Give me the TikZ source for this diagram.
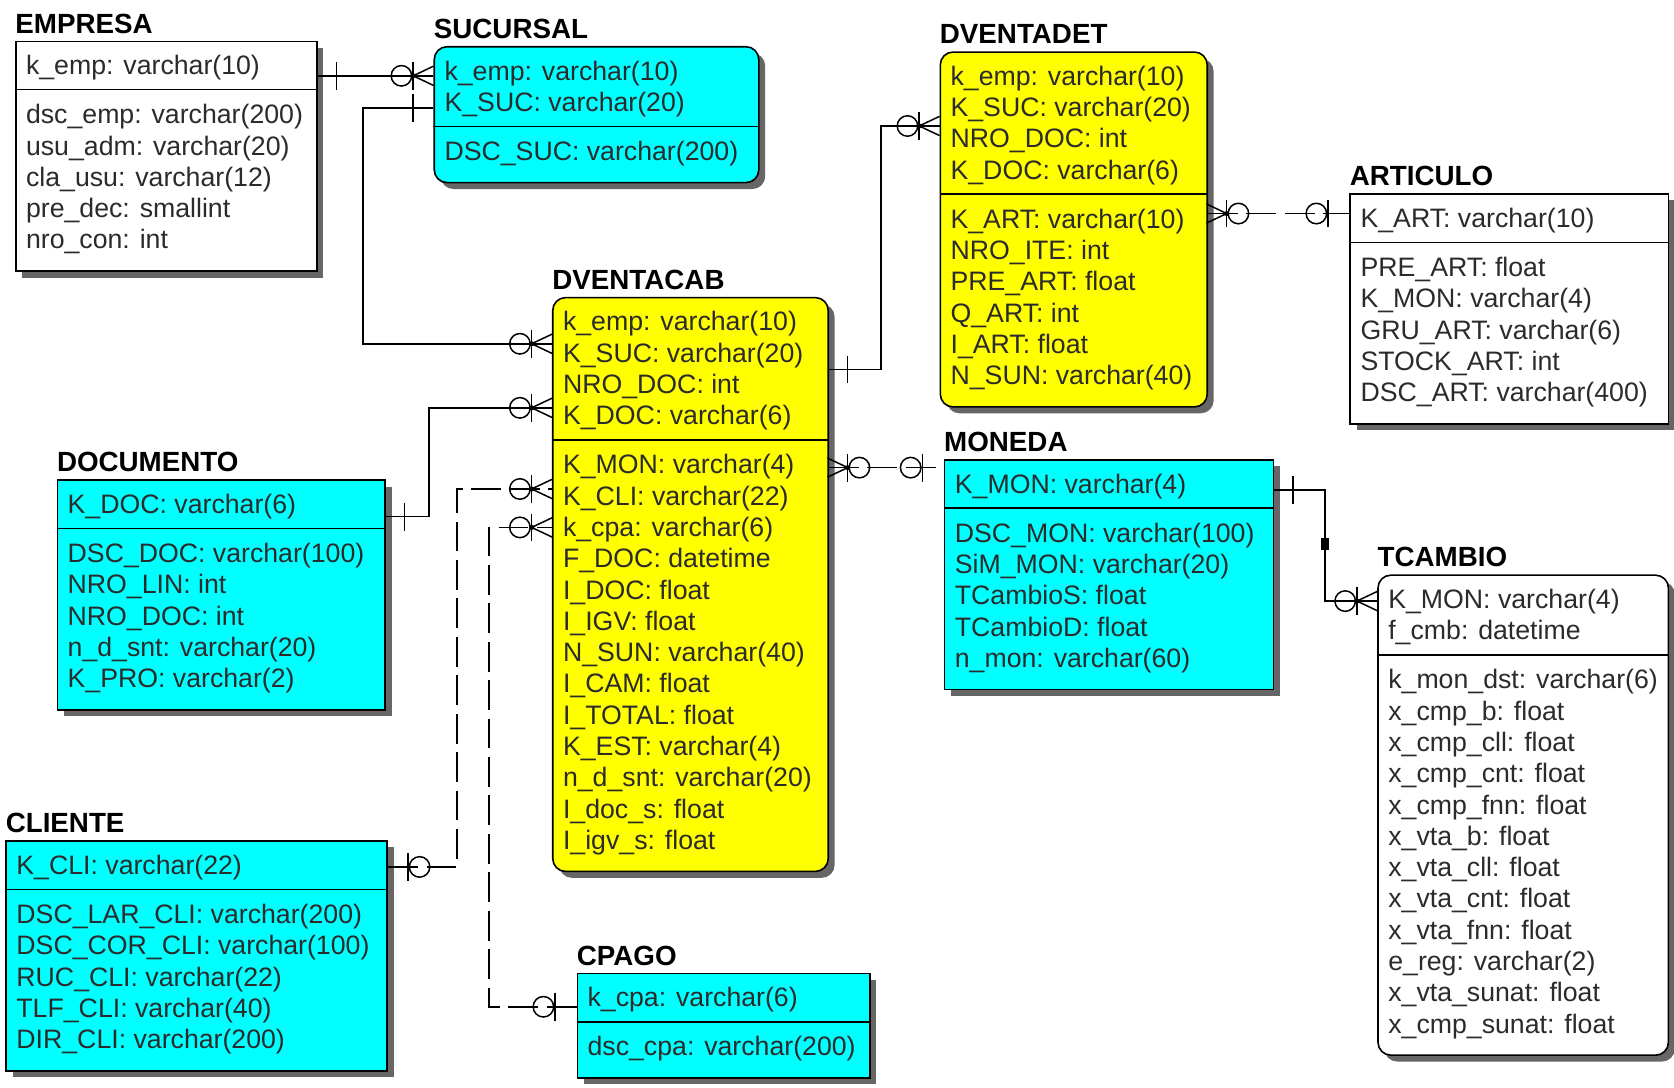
\documentclass[tikz,border=0pt]{standalone}
\usepackage{fontspec}
\setmainfont{Liberation Sans}
\usetikzlibrary{shadows}

\definecolor{ecyan}{HTML}{00FFFF}
\definecolor{eyellow}{HTML}{FFFF00}
\definecolor{etext}{HTML}{2B2B2B}

% Table of an ER diagram: box, title, key rows, divider, other rows.
% #1 name, #2 left, #3 top, #4 width, #5 box style, #6 title, #7 key rows, #8 other rows
\newcommand\entity[8]{%
  \def\nk{0}\foreach \rowtext [count=\c] in {#7} {\xdef\nk{\c}}%
  \def\nr{0}\foreach \rowtext [count=\c] in {#8} {\xdef\nr{\c}}%
  \pgfmathsetmacro\edv{#3+23+(\nk-1)*29.3+23}%
  \pgfmathsetmacro\ebt{\edv+23+(\nr-1)*29.3+29}%
  \pgfmathsetmacro\eht{(\ebt-#3)*0.5}%
  \pgfmathsetmacro\ewd{#4*0.5}%
  \node[ebox, #5, minimum width=\ewd pt, minimum height=\eht pt, anchor=north west] (#1) at (#2,#3) {};
  \node[etitle] (#1-t) at (#2,#3-7) {#6};
  \draw[eline] (#1.west |- 0,\edv) -- (#1.east |- 0,\edv);
  \foreach \rowtext [count=\c from 0] in {#7}
    \node[erow] (#1-k\c) at (#2+10,#3+23+\c*29.3+9) {\rowtext};
  \foreach \rowtext [count=\c from 0] in {#8}
    \node[erow] (#1-a\c) at (#2+10,\edv+23+\c*29.3+9) {\rowtext};
}

% Relationship end marks; #1 edge x, #2 y, #3 direction (+1 mark lies right of the edge, -1 left)
\newcommand\onemark[3]{%
  \draw[conn] (#1+19*#3,#2-13) -- (#1+19*#3,#2+13);}
\newcommand\zeroone[3]{%
  \draw[conn] (#1+20*#3,#2-13) -- (#1+20*#3,#2+13);
  \draw[conn] (#1+31*#3,#2) circle[radius=4.8pt];}
\newcommand\zeromany[3]{%
  \draw[conn] (#1,#2-9) -- (#1+19*#3,#2) -- (#1,#2+9);
  \draw[conn] (#1+19*#3,#2-13) -- (#1+19*#3,#2+13);
  \fill (#1+19*#3,#2) circle[radius=1.2pt];
  \draw[conn] (#1+30*#3,#2) circle[radius=4.8pt];}

\begin{document}
\begin{tikzpicture}[x=0.5pt,y=-0.5pt,
  ebox/.style={draw=black, line width=0.75pt, fill=white,
    drop shadow={shadow xshift=3pt, shadow yshift=-3pt, fill=black!60, opacity=1}},
  rbox/.style={rounded corners=6pt},
  eline/.style={draw=black, line width=0.75pt},
  etitle/.style={anchor=base west, inner sep=0pt, font=\bfseries\fontsize{13}{15}\selectfont},
  erow/.style={anchor=base west, inner sep=0pt, text=etext, font=\fontsize{12.5}{15}\selectfont},
  conn/.style={draw=black, line width=0.7pt},
  dconn/.style={conn, dash pattern=on 14pt off 4pt}]

\fill[white] (0,0) rectangle (1568,1019);
\useasboundingbox (0,0) rectangle (1568,1019);

\entity{emp}{14}{38}{282}{}{EMPRESA}
  {k\_emp: varchar(10)}
  {dsc\_emp: varchar(200), usu\_adm: varchar(20), cla\_usu: varchar(12), pre\_dec: smallint, nro\_con: int}

\entity{suc}{406}{43}{304}{fill=ecyan, rbox}{SUCURSAL}
  {k\_emp: varchar(10), K\_SUC: varchar(20)}
  {DSC\_SUC: varchar(200)}

\entity{dvd}{880}{48}{250}{fill=eyellow, rbox}{DVENTADET}
  {k\_emp: varchar(10), K\_SUC: varchar(20), NRO\_DOC: int, K\_DOC: varchar(6)}
  {K\_ART: varchar(10), NRO\_ITE: int, PRE\_ART: float, Q\_ART: int, I\_ART: float, N\_SUN: varchar(40)}

\entity{art}{1264}{181}{298}{}{ARTICULO}
  {K\_ART: varchar(10)}
  {PRE\_ART: float, K\_MON: varchar(4), GRU\_ART: varchar(6), STOCK\_ART: int, DSC\_ART: varchar(400)}

\entity{dvc}{517}{278}{258}{fill=eyellow, rbox}{DVENTACAB}
  {k\_emp: varchar(10), K\_SUC: varchar(20), NRO\_DOC: int, K\_DOC: varchar(6)}
  {K\_MON: varchar(4), K\_CLI: varchar(22), k\_cpa: varchar(6), F\_DOC: datetime, I\_DOC: float, I\_IGV: float, N\_SUN: varchar(40), I\_CAM: float, I\_TOTAL: float, K\_EST: varchar(4), n\_d\_snt: varchar(20), I\_doc\_s: float, I\_igv\_s: float}

\entity{mon}{884}{430}{308}{fill=ecyan}{MONEDA}
  {K\_MON: varchar(4)}
  {DSC\_MON: varchar(100), SiM\_MON: varchar(20), TCambioS: float, TCambioD: float, n\_mon: varchar(60)}

\entity{tca}{1290}{538}{272}{rbox}{TCAMBIO}
  {K\_MON: varchar(4), f\_cmb: datetime}
  {k\_mon\_dst: varchar(6), x\_cmp\_b: float, x\_cmp\_cll: float, x\_cmp\_cnt: float, x\_cmp\_fnn: float, x\_vta\_b: float, x\_vta\_cll: float, x\_vta\_cnt: float, x\_vta\_fnn: float, e\_reg: varchar(2), x\_vta\_sunat: float, x\_cmp\_sunat: float}

\entity{doc}{53}{449}{307}{fill=ecyan}{DOCUMENTO}
  {K\_DOC: varchar(6)}
  {DSC\_DOC: varchar(100), NRO\_LIN: int, NRO\_DOC: int, n\_d\_snt: varchar(20), K\_PRO: varchar(2)}

\entity{cli}{5}{787}{357}{fill=ecyan}{CLIENTE}
  {K\_CLI: varchar(22)}
  {DSC\_LAR\_CLI: varchar(200), DSC\_COR\_CLI: varchar(100), RUC\_CLI: varchar(22), TLF\_CLI: varchar(40), DIR\_CLI: varchar(200)}

\entity{cpa}{540}{911}{274}{fill=ecyan}{CPAGO}
  {k\_cpa: varchar(6)}
  {dsc\_cpa: varchar(200)}

% EMPRESA -> SUCURSAL
\draw[conn] (emp.east |- 0,71) -- (suc.west |- 0,71);
\onemark{296}{71}{1}
\zeromany{406}{71}{-1}

% SUCURSAL -> DVENTACAB
\draw[conn] (suc.west |- 0,101) -| (340,322) -- (dvc.west |- 0,322);
\onemark{406}{101}{-1}
\zeromany{517}{322}{-1}

% DVENTACAB -> DVENTADET
\draw[conn] (dvc.east |- 0,346) -| (825,118) -- (dvd.west |- 0,118);
\onemark{775}{346}{1}
\zeromany{880}{118}{-1}

% DOCUMENTO -> DVENTACAB
\draw[conn] (doc.east |- 0,484) -| (402,382) -- (dvc.west |- 0,382);
\onemark{360}{484}{1}
\zeromany{517}{382}{-1}

% CLIENTE -> DVENTACAB (non-identifying)
\draw[dconn] (cli.east |- 0,812) -| (428,458) -- (dvc.west |- 0,458);
\zeroone{362}{812}{1}
\zeromany{517}{458}{-1}

% CPAGO -> DVENTACAB (non-identifying)
\draw[dconn] (cpa.west |- 0,943) -| (458,494) -- (dvc.west |- 0,494);
\zeroone{540}{943}{-1}
\zeromany{517}{494}{-1}

% MONEDA -> DVENTACAB (non-identifying)
\draw[dconn] (dvc.east |- 0,438) -- (mon.west |- 0,438);
\zeromany{775}{438}{1}
\zeroone{884}{438}{-1}

% ARTICULO -> DVENTADET (non-identifying)
\draw[dconn] (dvd.east |- 0,200) -- (art.west |- 0,200);
\zeromany{1130}{200}{1}
\zeroone{1264}{200}{-1}

% MONEDA -> TCAMBIO
\draw[conn] (mon.east |- 0,459) -| (1241,563) -- (tca.west |- 0,563);
\fill (1237.5,504) rectangle (1244.5,515);
\onemark{1192}{459}{1}
\zeromany{1290}{563}{-1}

\end{tikzpicture}
\end{document}
